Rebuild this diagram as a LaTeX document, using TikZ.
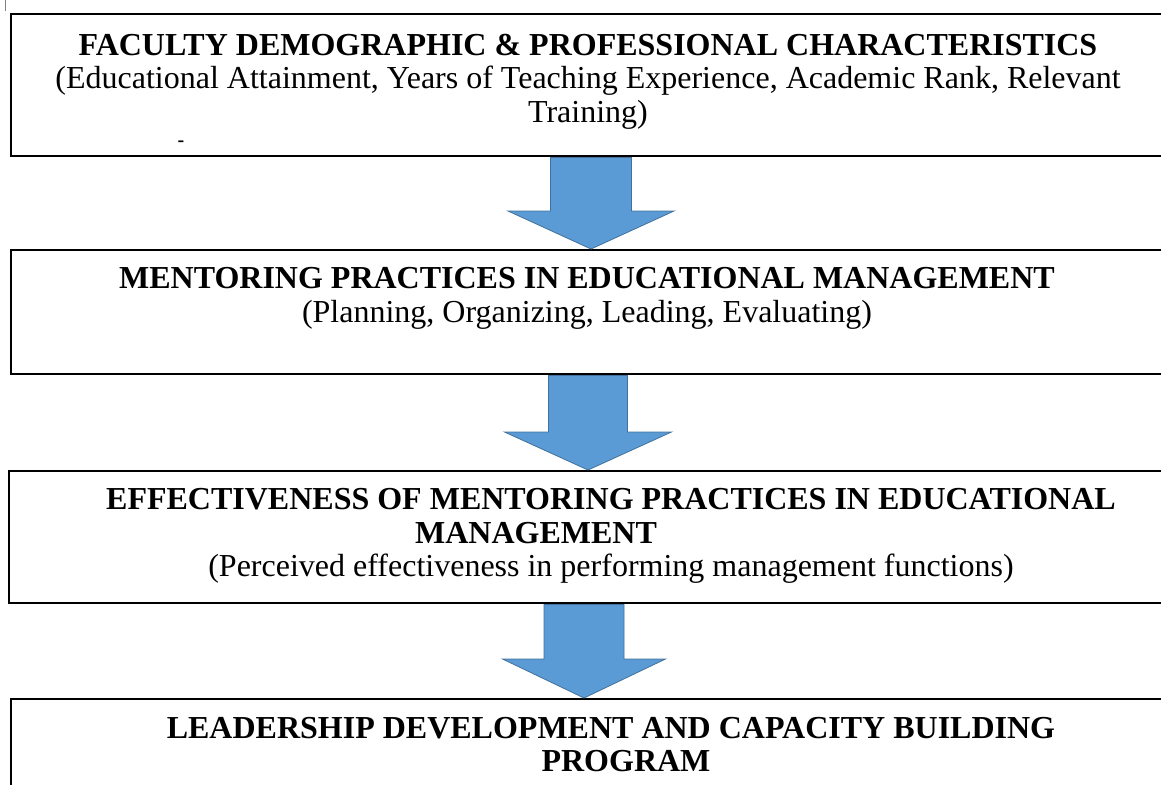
\documentclass[tikz,border=0pt]{standalone}
\usepackage{fontspec}
\setmainfont{Liberation Serif}
\usetikzlibrary{positioning}

\definecolor{arrowblue}{HTML}{5B9BD5}
\definecolor{arrowedge}{HTML}{41719C}

% block arrow: from node, to node, centre x, shaft half width, head half width, head base y
\newcommand{\blockarrow}[6]{%
  \filldraw[blockarrow] ({#3-#4},0 |- #1.south) -- ({#3+#4},0 |- #1.south) -- ({#3+#4},#6) -- ({#3+#5},#6)
    -- (#3,0 |- #2.north) -- ({#3-#5},#6) -- ({#3-#4},#6) -- cycle;}

\begin{document}
\begin{tikzpicture}[x=1pt, y=-1pt]
\tikzstyle{frame}=[rectangle, draw=black, line width=2.4pt, minimum width=1158pt, inner sep=0pt, anchor=north west]
\tikzstyle{boxtext}=[align=center, inner sep=0pt, anchor=north, font=\fontsize{32}{33.5}\selectfont]
\tikzstyle{blockarrow}=[fill=arrowblue, draw=arrowedge, line width=0.8pt, line join=miter]

\useasboundingbox (0,0) rectangle (1161,784);

\node (faculty) [frame, minimum height=142pt] at (10,13) {};
\node (mentoring) [frame, minimum height=124pt] at (10,249) {};
\node (effect) [frame, minimum height=132pt] at (8,470) {};
\node (leader) [frame, minimum height=120pt] at (10,698) {};

\node (facultyText) [boxtext] at (588,34) {\textbf{FACULTY DEMOGRAPHIC \& PROFESSIONAL CHARACTERISTICS}\\
  (Educational Attainment, Years of Teaching Experience, Academic Rank, Relevant\\ Training)};
\node (mentoringText) [boxtext] at (587,267.5) {\textbf{MENTORING PRACTICES IN EDUCATIONAL MANAGEMENT}\\
  (Planning, Organizing, Leading, Evaluating)};
\node (effectText) [boxtext] at (611,488.5) {\textbf{EFFECTIVENESS OF MENTORING PRACTICES IN EDUCATIONAL}\\
  \textbf{MANAGEMENT}\hspace*{150pt}\mbox{}\\ (Perceived effectiveness in performing management functions)};
\node (leaderText) [boxtext] at (611,717) {\textbf{LEADERSHIP DEVELOPMENT AND CAPACITY BUILDING}\\
  \hspace*{30pt}\textbf{PROGRAM}};
\node (dash) [font=\fontsize{20}{20}\selectfont\bfseries, inner sep=0pt] at (181,144) {-};
\draw[gray, line width=1pt] (5,0) -- (5,11);

\blockarrow{faculty}{mentoring}{591}{40.5}{83}{211}
\blockarrow{mentoring}{effect}{588}{39.5}{83.5}{432}
\blockarrow{effect}{leader}{584}{40}{81.5}{659}

\end{tikzpicture}
\end{document}
